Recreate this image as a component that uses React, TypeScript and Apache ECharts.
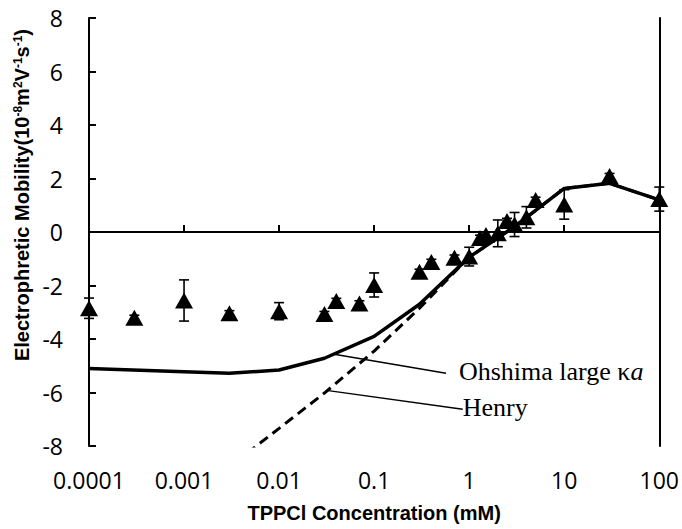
import React, { useEffect, useRef } from 'react';
import * as echarts from 'echarts';

// Experimental data (TPPCl concentration, mM)
const expConc = [0.0001, 0.0003, 0.001, 0.003, 0.01, 0.03, 0.04, 0.07, 0.1, 0.3, 0.4, 0.7, 1.0, 1.3, 1.5, 2.0, 2.5, 3.0, 4.0, 5.0, 10, 30, 100];
const expMobility = [-2.85, -3.21, -2.56, -3.04, -2.96, -3.07, -2.58, -2.67, -1.98, -1.49, -1.12, -0.96, -0.92, -0.22, -0.11, -0.05, 0.41, 0.28, 0.55, 1.2, 1.03, 2.09, 1.23];
const expError = [0.38, 0.1, 0.77, 0.1, 0.32, 0.1, 0.1, 0.1, 0.45, 0.1, 0.1, 0.1, 0.35, 0.1, 0.1, 0.5, 0.1, 0.45, 0.4, 0.1, 0.55, 0.1, 0.45];

// Model curves
const ohshimaConc = [0.0001, 0.001, 0.003, 0.01, 0.03, 0.1, 0.3, 1, 3, 10, 30, 100];
const ohshimaMobility = [-5.1, -5.22, -5.28, -5.16, -4.72, -3.9, -2.7, -0.94, 0.2, 1.63, 1.82, 1.2];
const henryConc = [0.001, 0.003, 0.01, 0.03, 0.1, 0.3, 1, 3, 10, 30, 100];
const henryMobility = [-10.1, -8.78, -7.34, -6.02, -4.45, -2.85, -0.94, 0.2, 1.63, 1.82, 1.2];

// Tick labels
const xTickLabels = ['0.0001', '0.001', '0.01', '0.1', '1', '10', '100'];

// Annotation leader lines (data coordinates)
const ohshimaLeader = [[0.038, -4.57], [0.57, -5.28]];
const henryLeader = [[0.033, -5.93], [0.855, -6.63]];

const TICK_FONT = 'Open Sans';

export default function App() {
  const ref = useRef<HTMLDivElement>(null);
  useEffect(() => {
    document.body.style.margin = '0';
    const chart = echarts.init(ref.current!, null, { renderer: 'svg' });
    const option: any = {
      animation: false,
      backgroundColor: '#fff',
      grid: { left: 89, right: 21, top: 18, bottom: 83, containLabel: false },
      xAxis: {
        type: 'log',
        logBase: 10,
        min: 0.0001,
        max: 100,
        axisLine: { show: true, lineStyle: { color: '#000', width: 2 } },
        axisTick: { show: true, inside: true, length: 7, lineStyle: { color: '#000', width: 2 } },
        minorTick: { show: false },
        splitLine: { show: false },
        axisLabel: {
          color: '#000',
          fontFamily: TICK_FONT,
          fontSize: 23,
          margin: 22,
          formatter: (v: number) => {
            const i = Math.round(Math.log10(v)) + 4;
            return xTickLabels[i] ?? '';
          },
        },
        name: 'TPPCl Concentration (mM)',
        nameLocation: 'middle',
        nameGap: 57,
        nameTextStyle: { color: '#000', fontFamily: 'Liberation Sans', fontWeight: 'bold', fontSize: 20 },
      },
      yAxis: [
        {
          type: 'value',
          min: -8,
          max: 8,
          interval: 2,
          axisLine: { show: true, lineStyle: { color: '#000', width: 2 } },
          axisTick: { show: true, inside: true, length: 7, lineStyle: { color: '#000', width: 2 } },
          splitLine: { show: false },
          axisLabel: { color: '#000', fontFamily: TICK_FONT, fontSize: 23, margin: 26 },
        },
        {
          type: 'value',
          position: 'right',
          min: -8,
          max: 8,
          interval: 2,
          axisLine: { show: true, lineStyle: { color: '#000', width: 2 } },
          axisTick: { show: false },
          axisLabel: { show: false },
          splitLine: { show: false },
        },
      ],
      series: [
        {
          name: 'Ohshima large κa',
          type: 'line',
          data: ohshimaConc.map((c, i) => [c, ohshimaMobility[i]]),
          showSymbol: false,
          symbol: 'none',
          lineStyle: { color: '#000', width: 3.5 },
          z: 2,
          markLine: {
            silent: true,
            symbol: ['none', 'none'],
            label: { show: false },
            lineStyle: { color: '#000', width: 1.5, type: 'solid' },
            data: [{ yAxis: 0 }],
          },
        },
        {
          name: 'Henry',
          type: 'line',
          data: henryConc.map((c, i) => [c, henryMobility[i]]),
          showSymbol: false,
          symbol: 'none',
          clip: true,
          lineStyle: { color: '#000', width: 3, type: [10, 6] },
          z: 2,
        },
        {
          name: 'errors',
          type: 'custom',
          data: expConc.map((c, i) => [c, expMobility[i], expError[i]]),
          encode: { x: 0, y: 1 },
          z: 3,
          renderItem: (params: any, api: any) => {
            const x = api.value(0);
            const y = api.value(1);
            const e = api.value(2);
            const p1 = api.coord([x, y + e]);
            const p2 = api.coord([x, y - e]);
            const w = 5;
            const st = { stroke: '#000', lineWidth: 1.6 };
            return {
              type: 'group',
              children: [
                { type: 'line', shape: { x1: p1[0], y1: p1[1], x2: p2[0], y2: p2[1] }, style: st },
                { type: 'line', shape: { x1: p1[0] - w, y1: p1[1], x2: p1[0] + w, y2: p1[1] }, style: st },
                { type: 'line', shape: { x1: p2[0] - w, y1: p2[1], x2: p2[0] + w, y2: p2[1] }, style: st },
              ],
            };
          },
        },
        {
          name: 'Experiment',
          type: 'scatter',
          data: expConc.map((c, i) => [c, expMobility[i]]),
          symbol: 'triangle',
          symbolSize: [18, 16],
          itemStyle: { color: '#000', opacity: 1 },
          z: 4,
        },
      ],
    };
    chart.setOption(option);

    const px = (p: number[]) => chart.convertToPixel({ xAxisIndex: 0, yAxisIndex: 0 }, p) as number[];
    const o0 = px(ohshimaLeader[0]);
    const o1 = px(ohshimaLeader[1]);
    const h0 = px(henryLeader[0]);
    const h1 = px(henryLeader[1]);
    const serif = 'Liberation Serif';
    chart.setOption({
      graphic: [
        { type: 'line', shape: { x1: o0[0], y1: o0[1], x2: o1[0], y2: o1[1] }, style: { stroke: '#000', lineWidth: 1.5 } },
        { type: 'line', shape: { x1: h0[0], y1: h0[1], x2: h1[0], y2: h1[1] }, style: { stroke: '#000', lineWidth: 1.5 } },
        {
          type: 'text',
          x: o1[0] + 13,
          y: o1[1] - 2,
          style: {
            text: '{n|Ohshima large κ}{i|a}',
            rich: {
              n: { fontFamily: serif, fontSize: 26, color: '#000' },
              i: { fontFamily: serif, fontSize: 26, fontStyle: 'italic', color: '#000' },
            },
            fill: '#000',
            align: 'left',
            verticalAlign: 'middle',
          },
        },
        {
          type: 'text',
          x: h1[0],
          y: h1[1] - 2,
          style: {
            text: 'Henry',
            fontFamily: serif,
            fontSize: 26,
            fill: '#000',
            align: 'left',
            verticalAlign: 'middle',
          },
        },
        {
          type: 'text',
          x: 22,
          y: 195,
          rotation: Math.PI / 2,
          style: {
            text: '{a|Electrophretic Mobility(10}{s|-8}{a|m}{s|2}{a|V}{s|-1}{a|s}{s|-1}{a|)}',
            rich: {
              a: { fontFamily: 'Liberation Sans', fontWeight: 'bold', fontSize: 20, color: '#000' },
              s: { fontFamily: 'Liberation Sans', fontWeight: 'bold', fontSize: 12, color: '#000', verticalAlign: 'top' },
            },
            fill: '#000',
            align: 'center',
            verticalAlign: 'middle',
          },
        },
      ],
    });

    return () => chart.dispose();
  }, []);
  return <div ref={ref} style={{ width: 682, height: 529 }} />;
}
